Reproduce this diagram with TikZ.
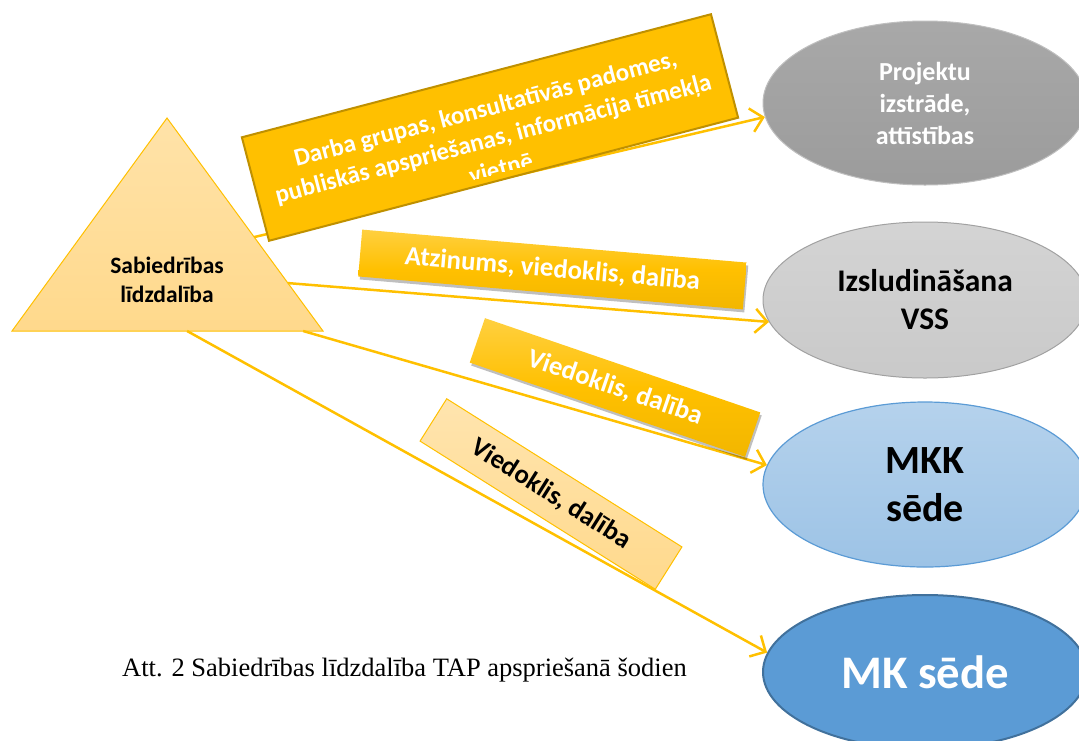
\documentclass[tikz,border=0pt]{standalone}
\usepackage{fontspec}
\setmainfont{Carlito}
\newfontfamily\capfont{Liberation Serif}
\usetikzlibrary{shapes.geometric,arrows.meta,shadows,calc}
\definecolor{gold}{HTML}{FFC000}
\definecolor{golddark}{HTML}{BF9000}
\definecolor{goldlight}{HTML}{FFD98C}
\definecolor{blueA}{HTML}{5B9BD5}
\definecolor{blueB}{HTML}{41719C}
\tikzset{
  conn/.style={draw=gold, line width=2.5pt, -{Straight Barb[length=12pt,width=24pt]}},
  goldbox/.style={rectangle, inner sep=0pt, top color=gold!75!white, bottom color=gold!95!black, middle color=gold,
    drop shadow={shadow xshift=1.5pt, shadow yshift=-3pt, opacity=0.25, fill=black},
    text=white, font=\bfseries\fontsize{26.8}{32}\selectfont},
  lightbox/.style={rectangle, inner sep=0pt, draw=gold, line width=1pt, top color=goldlight!70!white, bottom color=goldlight,
    text=black, font=\bfseries\fontsize{26.8}{32}\selectfont},
  topbox/.style={rectangle, inner sep=0pt, fill=gold, draw=golddark, line width=2pt},
  toptext/.style={text=white, align=center, inner sep=0pt, font=\bfseries\fontsize{25}{31}\selectfont},
  oval/.style={ellipse, inner sep=0pt, minimum width=324pt, align=center, font=\bfseries},
}
\begin{document}
\begin{tikzpicture}[x=1pt,y=-1pt]
\useasboundingbox (0,0) rectangle (1079,740);
\clip (0,0) rectangle (1079,740);

% triangle
\coordinate (tA) at (167,118);
\coordinate (tB) at (12,331);
\coordinate (tC) at (323,331);
\path[top color=goldlight!75!white, bottom color=goldlight, draw=gold, line width=1pt] (tA) -- (tB) -- (tC) -- cycle;
\node[align=center, font=\bfseries\fontsize{23.5}{29}\selectfont, inner sep=0pt] (tri) at (167,280) {Sabiedrības\\līdzdalība};

\coordinate (s1) at ($(tA)!0.559!(tC)$);
\coordinate (s2) at ($(tA)!0.775!(tC)$);
\coordinate (s3) at ($(tB)!0.936!(tC)$);
\coordinate (s4) at ($(tB)!0.563!(tC)$);

% ellipses
\node[oval, minimum height=164pt, top color=black!34, bottom color=black!39, draw=black!25, line width=1pt,
  text=white, font=\bfseries\fontsize{26}{32}\selectfont] (proj) at (925,103) {Projektu\\izstrāde,\\attīstības};
\node[oval, minimum height=156pt, top color=black!17, bottom color=black!21, draw=black!37, line width=1pt,
  text=black, font=\bfseries\fontsize{31.5}{38}\selectfont] (izs) at (925,300) {Izsludināšana\\VSS};
\node[oval, minimum height=165pt, top color=blueA!45!white, bottom color=blueA!60!white, draw=blueA, line width=1.2pt,
  text=black, font=\bfseries\fontsize{40}{48}\selectfont] (mkk) at (925,484.5) {MKK\\sēde};
\node[oval, minimum height=154pt, fill=blueA, draw=blueB, line width=2pt,
  text=white, font=\bfseries\fontsize{46.7}{56}\selectfont] (mk) at (925,672) {MK sēde};

% connectors
\draw[conn] (s1) -- (proj.185);
\draw[conn] (s2) -- (izs.188);
\draw[conn] (s3) -- (mkk.173);
\draw[conn] (s4) -- (mk.173);

% label boxes
\node[topbox, minimum width=485pt, minimum height=107pt, rotate=14.7] (box1) at (490,127.5) {};
\begin{scope}
\clip[rotate around={14.7:(490,127.5)}] (247.5,74) rectangle (732.5,173.5);
\node[toptext, rotate=14.7] (box1t) at (493,138) {Darba grupas, konsultatīvās padomes,\\publiskās apspriešanas, informācija tīmekļa\\vietnē};
\end{scope}

\node[goldbox, minimum width=386pt, minimum height=47pt, rotate=-4.9] (box2) at (552.5,269.5) {Atzinums, viedoklis, dalība};
\node[goldbox, minimum width=291pt, minimum height=47pt, rotate=-18.9] (box3) at (615,387.5) {Viedoklis, dalība};
\node[lightbox, minimum width=278pt, minimum height=50pt, rotate=-32.2] (box4) at (551,494) {Viedoklis, dalība};

% caption
\node[anchor=base west, inner sep=0pt, font=\capfont\fontsize{26.5}{32}\selectfont] (cap) at (122,676) {Att. 2 Sabiedrības līdzdalība TAP apspriešanā šodien};
\end{tikzpicture}
\end{document}
